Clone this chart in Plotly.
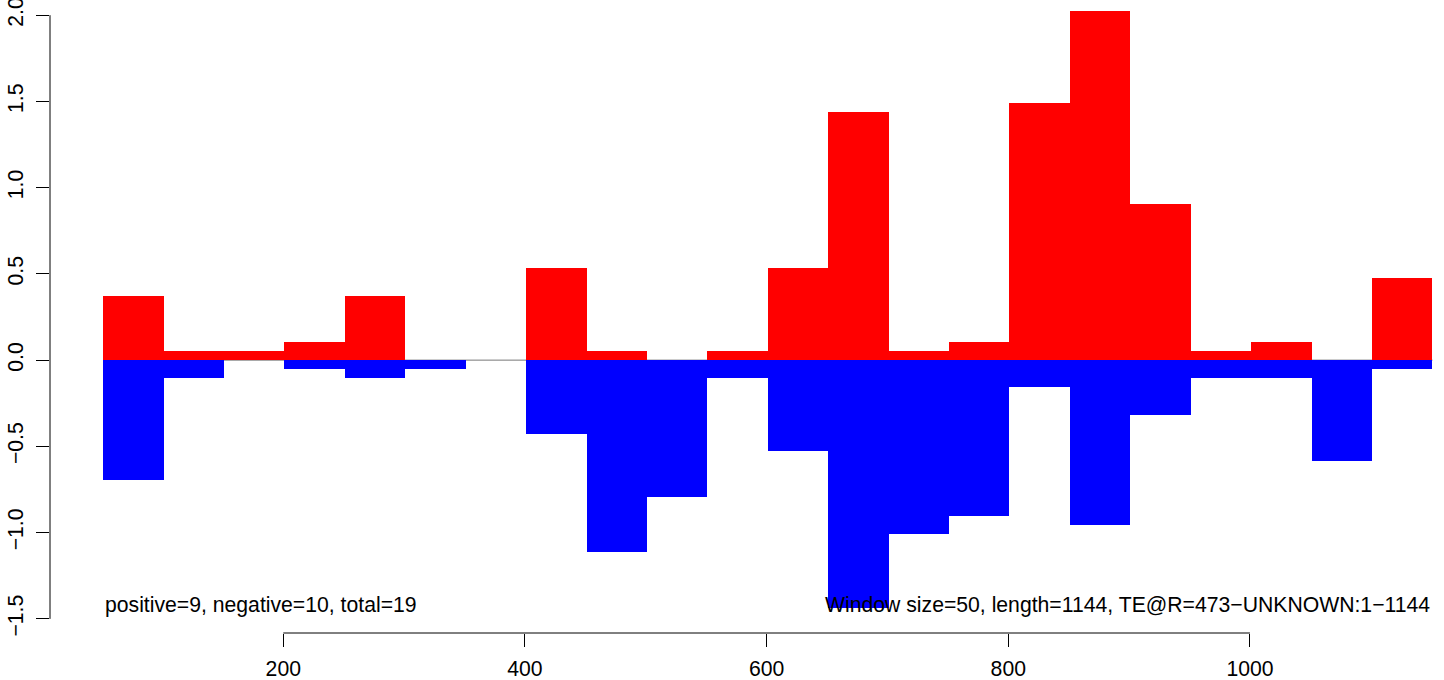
import plotly.graph_objects as go

window_size = 50
window_starts = [51, 101, 151, 201, 251, 301, 351, 401, 451, 501, 551,
                 601, 651, 701, 751, 801, 851, 901, 951, 1001, 1051, 1101]
positive = [0.371, 0.052, 0.052, 0.104, 0.371, 0.0, 0.0, 0.533, 0.052, 0.0, 0.052,
            0.533, 1.438, 0.052, 0.104, 1.490, 2.024, 0.904, 0.052, 0.104, 0.0, 0.475]
negative = [-0.697, -0.104, 0.0, -0.052, -0.104, -0.052, 0.0, -0.430, -1.114, -0.795, -0.104,
            -0.528, -1.439, -1.010, -0.905, -0.157, -0.957, -0.319, -0.104, -0.104, -0.586, -0.052]
y_ticks = [-1.5, -1.0, -0.5, 0.0, 0.5, 1.0, 1.5, 2.0]
x_ticks = [200, 400, 600, 800, 1000]
left_text = "positive=9, negative=10, total=19"
right_text = "Window size=50, length=1144, TE@R=473\u2212UNKNOWN:1\u22121144"

centers = [s + window_size / 2 for s in window_starts]
FONT = "Liberation Sans, Arial, sans-serif"
FS = 21.2

fig = go.Figure()
fig.add_trace(go.Bar(x=centers, y=positive, width=window_size, marker=dict(color="#FF0000", line=dict(width=0)),
                     showlegend=False, hoverinfo="skip"))
fig.add_trace(go.Bar(x=centers, y=negative, width=window_size, marker=dict(color="#0000FF", line=dict(width=0)),
                     showlegend=False, hoverinfo="skip"))

def fmt(v):
    s = f"{v:.1f}"
    return s.replace("-", "\u2212")

shapes = [
    dict(type="line", xref="x", yref="y", x0=window_starts[0], x1=window_starts[-1] + window_size,
         y0=0, y1=0, line=dict(color="#777777", width=1), layer="below"),
    dict(type="line", xref="x", yref="paper", x0=x_ticks[0], x1=x_ticks[-1], y0=0, y1=0,
         line=dict(color="black", width=1)),
    dict(type="line", xref="paper", yref="y", x0=0, x1=0, y0=y_ticks[0], y1=y_ticks[-1],
         line=dict(color="black", width=1)),
]

fig.update_layout(
    width=1444, height=680,
    margin=dict(l=50, r=0, t=0, b=47, autoexpand=False),
    plot_bgcolor="white", paper_bgcolor="white",
    barmode="overlay", bargap=0,
    font=dict(family=FONT, size=FS, color="black"),
    shapes=shapes,
    xaxis=dict(range=[6.95, 1160.6], tickvals=x_ticks, ticktext=[str(v) for v in x_ticks],
               ticks="outside", ticklen=13, tickwidth=1, tickcolor="black",
               showline=False, showgrid=False, zeroline=False, ticklabelstandoff=4,
               ticklabeloverflow="allow", automargin=False),
    yaxis=dict(range=[-1.582, 2.088], tickvals=y_ticks, ticktext=[fmt(v) for v in y_ticks],
               ticks="outside", ticklen=13, tickwidth=1, tickcolor="black", tickangle=-90,
               showline=False, showgrid=False, zeroline=False, ticklabelstandoff=5,
               ticklabeloverflow="allow", automargin=False),
    annotations=[
        dict(x=window_starts[0], y=-1.42, xref="x", yref="y", text=left_text, showarrow=False,
             xanchor="left", yanchor="middle", font=dict(family=FONT, size=FS, color="black")),
        dict(x=window_starts[-1] + window_size, y=-1.42, xref="x", yref="y", text=right_text, showarrow=False,
             xanchor="right", yanchor="middle", font=dict(family=FONT, size=FS, color="black")),
    ],
)

fig.write_html("out.html", config={"displayModeBar": False},
               post_script="document.body.style.margin='0';document.body.style.padding='0';")
